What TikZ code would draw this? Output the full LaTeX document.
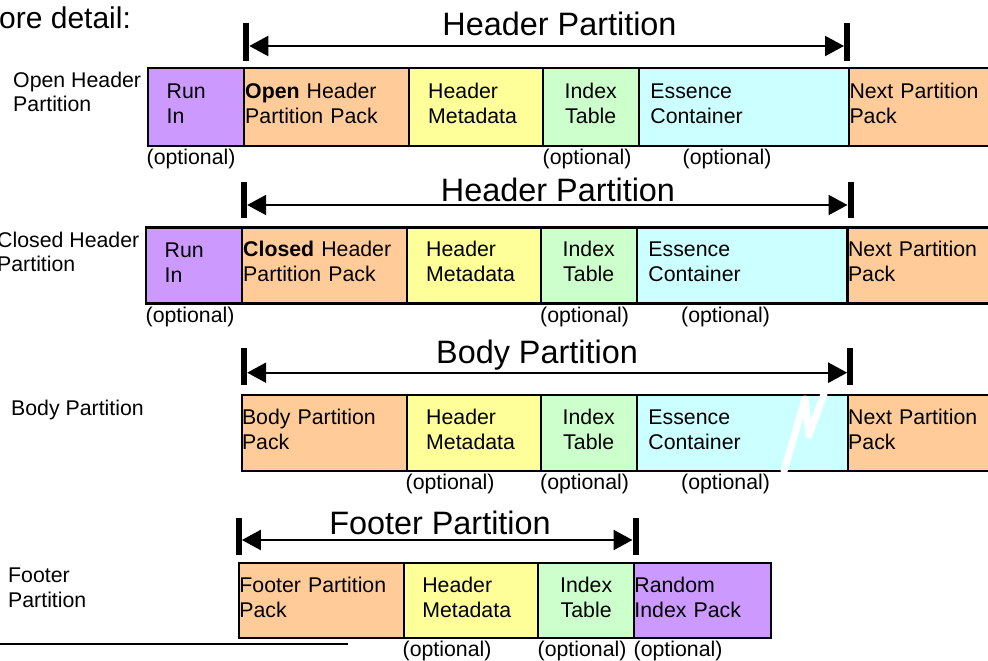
\documentclass[tikz,border=0pt]{standalone}
\usepackage{fontspec}
\setmainfont{Liberation Sans}
\usetikzlibrary{arrows.meta}

\definecolor{runin}{HTML}{CC99FF}
\definecolor{pack}{HTML}{FFCC99}
\definecolor{meta}{HTML}{FFFF99}
\definecolor{index}{HTML}{CCFFCC}
\definecolor{essence}{HTML}{CCFFFF}

\newcommand{\celltxt}{\fontsize{21.3}{25}\selectfont}
\newcommand{\sidetxt}{\fontsize{21.3}{24.4}\selectfont}
\newcommand{\titletxt}{\fontsize{32.4}{38}\selectfont}

\begin{document}
\begin{tikzpicture}[x=1pt, y=-1pt,
  cell/.style 2 args={draw, line width=2.2pt, anchor=west, outer sep=0pt, inner ysep=0pt, minimum height=76pt, text height=8pt, font=\celltxt, align=left, inner xsep=#2, text width=#1-2*#2},
  centred/.style={align=center},
  optlabel/.style={anchor=base west, inner sep=0pt, font=\celltxt},
  rowlabel/.style={anchor=base west, inner sep=0pt, font=\sidetxt, align=left},
  parttitle/.style={anchor=base, inner sep=0pt, font=\titletxt},
  dimline/.style={line width=2.3pt, {Triangle[length=19pt,width=20pt]}-{Triangle[length=19pt,width=20pt]}, shorten <=3pt, shorten >=3pt},
  endbar/.style={line width=6pt}]
\useasboundingbox (0,0) rectangle (988,661);

\node[anchor=base west, inner sep=0pt, font=\fontsize{30}{36}\selectfont] (intro) at (-1,28.3) {ore detail:};

\node[cell={96pt}{19pt}, fill=runin, minimum height=78pt] (ohrun) at (147.7,106.7) {Run\\In};
\node[cell={165pt}{1.5pt}, fill=pack, minimum height=78pt] (ohpack) at (243.7,106.7) {\textbf{Open} Header\\Partition Pack};
\node[cell={134pt}{19.5pt}, fill=meta, minimum height=78pt] (ohmeta) at (408.7,106.7) {Header\\Metadata};
\node[cell={96pt}{2pt}, fill=index, centred, minimum height=78pt] (ohindex) at (542.7,106.7) {Index\\Table};
\node[cell={210.3pt}{11.7pt}, fill=essence, minimum height=78pt] (ohess) at (638.7,106.7) {Essence\\Container};
\node[cell={151pt}{0.5pt}, fill=pack, minimum height=78pt] (ohnext) at (849,106.7) {Next Partition\\Pack};
\node[rowlabel] (ohlabel) at (13,111.7) {Open Header\\Partition};
\node[optlabel] (ohrunopt) at (146.5,164) {(optional)};
\node[optlabel] (ohindexopt) at (542.5,164) {(optional)};
\node[optlabel] (ohessopt) at (682.5,164) {(optional)};
\node[parttitle] (ohtitle) at (559.5,36) {Header Partition};
\coordinate (ohleft) at (246.3,46);
\coordinate (ohright) at (847,46);
\draw[dimline] (ohleft) -- (ohright);
\draw[endbar] (ohleft) ++(0,-23) -- ++(0,38);
\draw[endbar] (ohright) ++(0,-23) -- ++(0,38);

\node[cell={96pt}{19pt}, fill=runin] (chrun) at (145.7,265.5) {Run\\In};
\node[cell={165pt}{1.5pt}, fill=pack] (chpack) at (241.7,265.5) {\textbf{Closed} Header\\Partition Pack};
\node[cell={134pt}{19.5pt}, fill=meta] (chmeta) at (406.7,265.5) {Header\\Metadata};
\node[cell={96pt}{2pt}, fill=index, centred] (chindex) at (540.7,265.5) {Index\\Table};
\node[cell={210.8pt}{11.7pt}, fill=essence] (chess) at (636.7,265.5) {Essence\\Container};
\node[cell={153pt}{0.5pt}, fill=pack] (chnext) at (847.5,265.5) {Next Partition\\Pack};
\node[rowlabel] (chlabel) at (-3,271.7) {Closed Header\\Partition};
\node[optlabel] (chrunopt) at (145.5,322) {(optional)};
\node[optlabel] (chindexopt) at (540,322) {(optional)};
\node[optlabel] (chessopt) at (681,322) {(optional)};
\node[parttitle] (chtitle) at (558,201) {Header Partition};
\coordinate (chleft) at (244.2,205);
\coordinate (chright) at (850.5,205);
\draw[dimline] (chleft) -- (chright);
\draw[endbar] (chleft) ++(0,-23) -- ++(0,36);
\draw[endbar] (chright) ++(0,-23) -- ++(0,36);

\node[cell={165pt}{0.3pt}, fill=pack] (bppack) at (241.7,432.9) {Body Partition\\Pack};
\node[cell={134pt}{19.5pt}, fill=meta] (bpmeta) at (406.7,432.9) {Header\\Metadata};
\node[cell={96pt}{2pt}, fill=index, centred] (bpindex) at (540.7,432.9) {Index\\Table};
\node[cell={211pt}{11.7pt}, fill=essence] (bpess) at (636.7,432.9) {Essence\\Container};
\node[cell={153pt}{0.5pt}, fill=pack] (bpnext) at (847.7,432.9) {Next Partition\\Pack};
\draw[white, line width=7pt, line cap=round, line join=round] (784,471) -- (805,399) -- (809,435) -- (824,394);
\node[rowlabel] (bplabel) at (11,415) {Body Partition};
\node[optlabel] (bpmetaopt) at (405.5,489) {(optional)};
\node[optlabel] (bpindexopt) at (540,489) {(optional)};
\node[optlabel] (bpessopt) at (681,489) {(optional)};
\node[parttitle] (bptitle) at (537,363) {Body Partition};
\coordinate (bpleft) at (244.2,372.7);
\coordinate (bpright) at (850.2,372.7);
\draw[dimline] (bpleft) -- (bpright);
\draw[endbar] (bpleft) ++(0,-24.5) -- ++(0,37);
\draw[endbar] (bpright) ++(0,-24.5) -- ++(0,37);

\node[cell={165.3pt}{0.4pt}, fill=pack, minimum height=75pt] (fppack) at (239,600.8) {Footer Partition\\Pack};
\node[cell={134pt}{18pt}, fill=meta, minimum height=75pt] (fpmeta) at (404.3,600.8) {Header\\Metadata};
\node[cell={95.7pt}{2pt}, fill=index, centred, minimum height=75pt] (fpindex) at (538.3,600.8) {Index\\Table};
\node[cell={137pt}{0.4pt}, fill=runin, minimum height=75pt] (fprip) at (634,600.8) {Random\\Index Pack};
\node[rowlabel] (fplabel) at (8,607) {Footer\\Partition};
\node[optlabel] (fpmetaopt) at (402.5,656) {(optional)};
\node[optlabel] (fpindexopt) at (537.5,656) {(optional)};
\node[optlabel] (fpripopt) at (633.5,656) {(optional)};
\node[parttitle] (fptitle) at (440,534) {Footer Partition};
\coordinate (fpleft) at (238.9,540);
\coordinate (fpright) at (635.5,540);
\draw[dimline] (fpleft) -- (fpright);
\draw[endbar] (fpleft) ++(0,-22) -- ++(0,37);
\draw[endbar] (fpright) ++(0,-22) -- ++(0,37);

\draw[line width=2pt] (0,644) -- (348,644);
\end{tikzpicture}
\end{document}
